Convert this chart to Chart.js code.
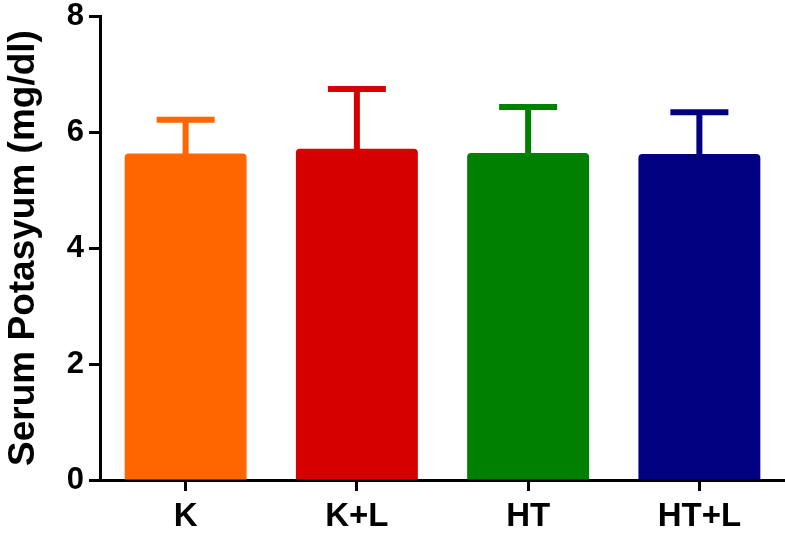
<!DOCTYPE html>
<html lang="en">
<head>
    <meta charset="UTF-8">
    <title>Serum Potasyum</title>
    <style>
        body {
            margin: 0;
            padding: 0;
            background-color: #fff;
        }

        .chart-box {
            width: 785px;
            height: 538px;
        }
    </style>
</head>
<body>

    <div class="chart-box">
        <canvas id="potasyumChart"></canvas>
    </div>

    <script src="https://cdn.jsdelivr.net/npm/chart.js"></script>

    <script>
        // Values
        const groups = ['K', 'K+L', 'HT', 'HT+L'];
        const means = [5.63, 5.71, 5.64, 5.62];
        const sdUpper = [0.58, 1.03, 0.79, 0.72];
        const barColors = ['#FF6600', '#D60000', '#008000', '#000080'];
        const yTicks = [0, 2, 4, 6, 8];

        // Draws the upper error bar (mean + SD) for each bar
        const errorBars = {
            id: 'errorBars',
            afterDatasetsDraw(chart) {
                const ctx = chart.ctx;
                const yScale = chart.scales.y;
                const meta = chart.getDatasetMeta(0);
                ctx.save();
                meta.data.forEach((bar, i) => {
                    const yTop = yScale.getPixelForValue(means[i] + sdUpper[i]);
                    const yBar = yScale.getPixelForValue(means[i]);
                    ctx.strokeStyle = barColors[i];
                    ctx.lineWidth = 6;
                    ctx.lineCap = 'butt';
                    ctx.beginPath();
                    ctx.moveTo(bar.x, yBar + 2);
                    ctx.lineTo(bar.x, yTop);
                    ctx.stroke();
                    ctx.beginPath();
                    ctx.moveTo(bar.x - 29, yTop);
                    ctx.lineTo(bar.x + 29, yTop);
                    ctx.stroke();
                });
                ctx.restore();
            }
        };

        const ctx = document.getElementById('potasyumChart').getContext('2d');
        new Chart(ctx, {
            type: 'bar',
            data: {
                labels: groups,
                datasets: [{
                    data: means,
                    backgroundColor: barColors,
                    borderWidth: 0,
                    borderRadius: 4,
                    borderSkipped: 'start',
                    barPercentage: 0.712,
                    categoryPercentage: 1.0
                }]
            },
            options: {
                responsive: true,
                maintainAspectRatio: false,
                animation: false,
                devicePixelRatio: 1,
                layout: {
                    padding: { top: 16, right: 0, left: 0, bottom: 0 }
                },
                plugins: {
                    legend: { display: false },
                    tooltip: { enabled: false }
                },
                scales: {
                    x: {
                        grid: {
                            display: true,
                            offset: false,
                            drawOnChartArea: false,
                            drawTicks: true,
                            tickLength: 11,
                            tickWidth: 3,
                            color: '#000'
                        },
                        border: { display: true, color: '#000', width: 3 },
                        ticks: {
                            color: '#000',
                            padding: 6,
                            font: { family: 'Liberation Sans, Arial', size: 33, weight: 'bold' }
                        },
                        afterFit(scale) {
                            scale.height = 58;
                            scale.paddingLeft = 0;
                            scale.paddingRight = 0;
                        }
                    },
                    y: {
                        min: 0,
                        max: 8,
                        afterBuildTicks(scale) {
                            scale.ticks = yTicks.map(v => ({ value: v }));
                        },
                        grid: {
                            display: true,
                            drawOnChartArea: false,
                            drawTicks: true,
                            tickLength: 11,
                            tickWidth: 3,
                            color: '#000'
                        },
                        border: { display: true, color: '#000', width: 3 },
                        ticks: {
                            color: '#000',
                            padding: 5,
                            font: { family: 'Liberation Sans, Arial', size: 31, weight: 'bold' }
                        },
                        title: {
                            display: true,
                            text: 'Serum Potasyum (mg/dl)',
                            color: '#000',
                            padding: { top: 2, bottom: 0 },
                            font: { family: 'Liberation Sans, Arial', size: 37, weight: 'bold' }
                        },
                        afterFit(scale) {
                            scale.width = 100;
                            scale.paddingTop = 0;
                            scale.paddingBottom = 0;
                        }
                    }
                }
            },
            plugins: [errorBars]
        });
    </script>
</body>
</html>
